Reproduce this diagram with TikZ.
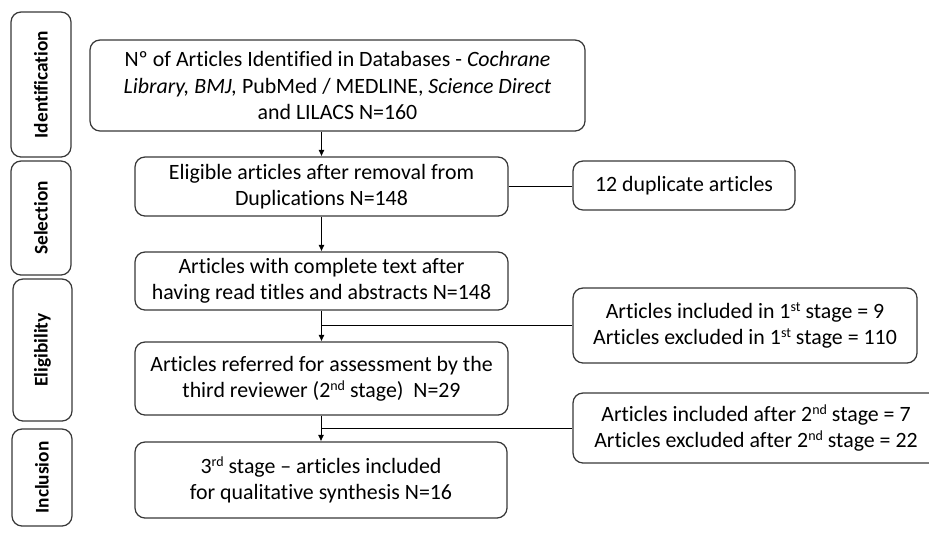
\documentclass[tikz,border=0pt]{standalone}
\usepackage{fontspec}
\setmainfont[Ligatures=NoCommon]{Carlito}
\usetikzlibrary{arrows.meta,calc}
\newcommand{\supx}[1]{\raisebox{0.62ex}{\fontsize{10.5}{12}\selectfont #1}}
\begin{document}
\begin{tikzpicture}[x=0.75pt,y=-0.75pt,
  box/.style={draw=black!78,line width=0.95pt,rounded corners=7.5pt,align=center,
    inner sep=0pt,font=\fontsize{16.4}{19.6}\selectfont},
  side/.style={draw=black!78,line width=0.95pt,rounded corners=7.5pt,rotate=90,
    inner sep=0pt,font=\fontsize{14.5}{17}\selectfont\bfseries},
  conn/.style={draw=black,line width=0.6pt},
  arr/.style={conn,-{Latex[length=4.8pt,width=4.5pt]}}]
\useasboundingbox (0,0) rectangle (929,540);
% side labels
\node[side,minimum width={145*0.75pt},minimum height={60*0.75pt}] (id) at (41,84.5) {Identification};
\node[side,minimum width={114*0.75pt},minimum height={60*0.75pt}] (sel) at (41,218) {Selection};
\node[side,minimum width={142*0.75pt},minimum height={59*0.75pt}] (eli) at (42.5,350) {Eligibility};
\node[side,minimum width={97*0.75pt},minimum height={60*0.75pt}] (inc) at (42,477.5) {Inclusion};
% main boxes
\node[box,minimum width={495*0.75pt},minimum height={91*0.75pt}] (b1) at (337.5,85.5)
  {Nº of Articles Identified in Databases - \textit{Cochrane}\\
   \textit{Library, BMJ,} PubMed / MEDLINE, \textit{Science Direct}\\
   and LILACS N=160};
\node[box,minimum width={373*0.75pt},minimum height={59*0.75pt}] (b2) at (321.5,186.5)
  {Eligible articles after removal from\\ Duplications N=148};
\node[box,minimum width={373*0.75pt},minimum height={58*0.75pt}] (b3) at (321.5,281)
  {Articles with complete text after\\ having read titles and abstracts N=148};
\node[box,minimum width={373*0.75pt},minimum height={73*0.75pt}] (b4) at (321.5,378.5)
  {Articles referred for assessment by the\\ third reviewer (2\supx{nd} stage)\ \ N=29};
\node[box,minimum width={372*0.75pt},minimum height={76*0.75pt}] (b5) at (321,480)
  {3\supx{rd} stage -- articles included\\ for qualitative synthesis N=16};
% right boxes
\node[box,minimum width={222*0.75pt},minimum height={49*0.75pt}] (r1) at (684,185.5)
  {12 duplicate articles};
\node[box,minimum width={344*0.75pt},minimum height={75*0.75pt}] (r2) at (745,325.5)
  {Articles included in 1\supx{st} stage = 9\\ Articles excluded in 1\supx{st} stage = 110};
\node[box,minimum width={366*0.75pt},minimum height={70*0.75pt}] (r3) at (756,428)
  {Articles included after 2\supx{nd} stage = 7\\ Articles excluded after 2\supx{nd} stage = 22};
% connectors
\draw[arr] (b2.north |- b1.south) -- (b2.north);
\draw[conn] (b2.east) -- (b2.east -| r1.west);
\draw[arr] (b2.south) -- (b3.north);
\coordinate (j1) at (b4.north |- r2.west);
\draw[arr] (b3.south) -- (b4.north);
\draw[conn] (j1) -- (r2.west);
\coordinate (j2) at (b5.north |- r3.west);
\draw[arr] (b4.south -| b5.north) -- (b5.north);
\draw[conn] (j2) -- (r3.west);
\end{tikzpicture}
\end{document}
